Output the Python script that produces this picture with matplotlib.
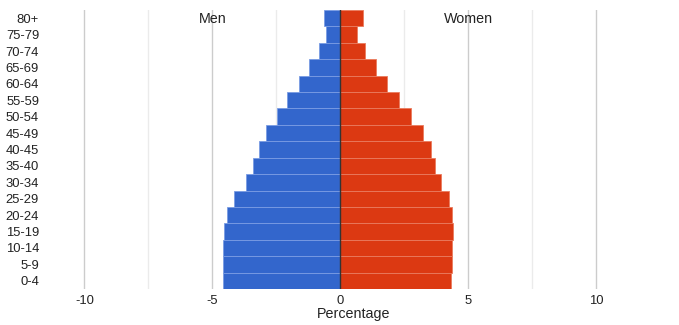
import matplotlib
matplotlib.use("Agg")
import matplotlib.pyplot as plt
import numpy as np

age_groups = ["0-4", "5-9", "10-14", "15-19", "20-24", "25-29", "30-34",
              "35-40", "40-45", "45-49", "50-54", "55-59", "60-64",
              "65-69", "70-74", "75-79", "80+"]
men = [4.58, 4.58, 4.58, 4.54, 4.43, 4.15, 3.68, 3.41, 3.18, 2.90,
       2.47, 2.08, 1.61, 1.22, 0.83, 0.56, 0.64]
women = [4.32, 4.36, 4.36, 4.40, 4.36, 4.24, 3.93, 3.70, 3.54, 3.23,
         2.76, 2.29, 1.82, 1.39, 0.96, 0.65, 0.89]
x_ticks = [-10, -5, 0, 5, 10]
x_tick_labels = ["-10", "-5", "0", "5", "10"]

plt.rcParams["font.family"] = ["Liberation Sans", "DejaVu Sans"]

W, H = 679, 325
fig = plt.figure(figsize=(W / 100, H / 100), dpi=100)
left_px, right_px, top_px, bottom_px = 46, 660.4, 10, 289
ax = fig.add_axes([left_px / W, 1 - bottom_px / H,
                   (right_px - left_px) / W, (bottom_px - top_px) / H])

y = np.arange(len(age_groups))
ax.barh(y, -np.array(men), height=1.0, color="#3366cc",
        edgecolor="#7a9ce3", linewidth=0.6, zorder=2)
ax.barh(y, women, height=1.0, color="#dc3912",
        edgecolor="#ea7b5e", linewidth=0.6, zorder=2)

ax.set_xlim(-11.5, 12.5)
ax.set_ylim(-0.5, len(age_groups) - 0.5)

for v in [-7.5, -2.5, 2.5, 7.5]:
    ax.axvline(v, color="#ebebeb", linewidth=1, zorder=0)
for v in [-10, -5, 5, 10]:
    ax.axvline(v, color="#cccccc", linewidth=1, zorder=0)
ax.axvline(0, color="#333333", linewidth=1, zorder=3)

ax.set_xticks(x_ticks)
ax.set_xticklabels(x_tick_labels)
ax.set_yticks(y)
ax.set_yticklabels(age_groups)
ax.tick_params(axis="both", length=0, labelsize=9.4, colors="#222222")
ax.tick_params(axis="x", pad=4)
ax.tick_params(axis="y", pad=5)
for s in ax.spines.values():
    s.set_visible(False)

ax.set_xlabel("Percentage", fontsize=10.3, color="#222222", labelpad=0)

trans = ax.get_xaxis_transform()
ax.text(-5, 1 - 9 / 279, "Men", transform=trans, ha="center", va="center",
        fontsize=10.3, color="#222222", zorder=4)
ax.text(5, 1 - 9 / 279, "Women", transform=trans, ha="center", va="center",
        fontsize=10.3, color="#222222", zorder=4)

fig.savefig("out.png", dpi=100, facecolor="white")
